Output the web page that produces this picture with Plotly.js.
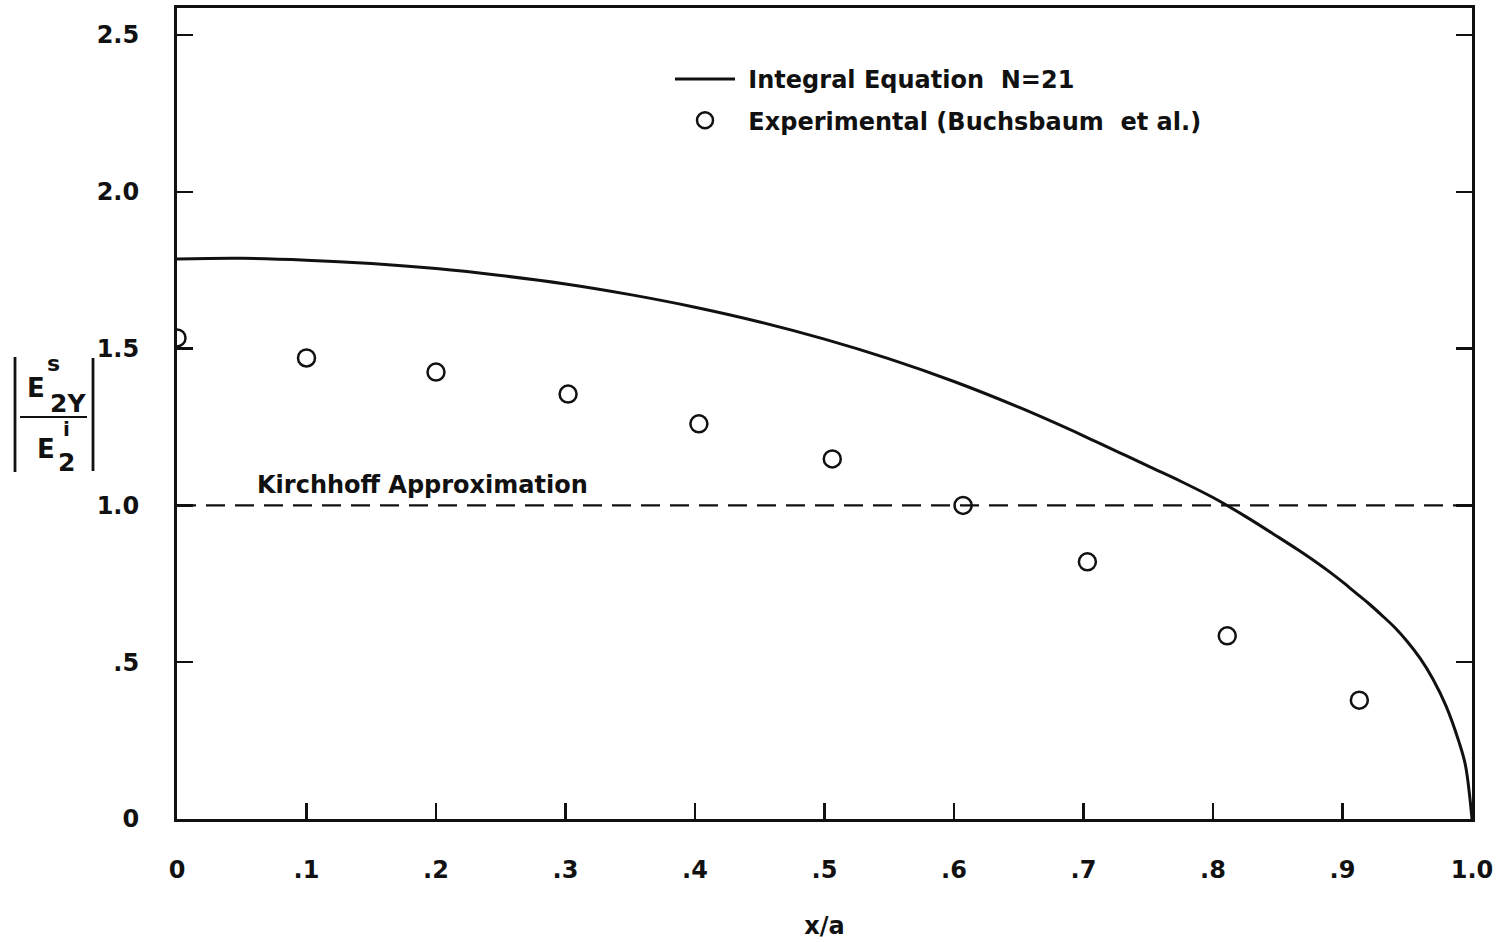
<!DOCTYPE html>
<html>
<head>
<meta charset="utf-8">
<script src="https://cdn.plot.ly/plotly-3.0.1.min.js"></script>
<style>
  html, body { margin: 0; padding: 0; background: #ffffff; }
  #chart { width: 1501px; height: 942px; }
</style>
</head>
<body>
<div id="chart"></div>
<script>
// Integral-equation solution (N = 21): normalized surface field vs. position
const curveX = [0, 0.05, 0.10, 0.15, 0.20, 0.25, 0.30, 0.35, 0.40, 0.45, 0.50,
                0.55, 0.60, 0.65, 0.70, 0.75, 0.775, 0.80, 0.825, 0.85, 0.865, 0.88,
                0.89, 0.90, 0.91, 0.92, 0.93, 0.94, 0.95, 0.96, 0.97, 0.98, 0.99, 0.995, 1.0];
const curveY = [1.786, 1.788, 1.782, 1.771, 1.755, 1.733, 1.706, 1.672, 1.632, 1.585, 1.530,
                1.467, 1.395, 1.313, 1.222, 1.125, 1.077, 1.025, 0.965, 0.900, 0.860, 0.818,
                0.788, 0.756, 0.722, 0.688, 0.651, 0.612, 0.566, 0.512, 0.445, 0.360, 0.245, 0.170, 0];

// Measured values (Buchsbaum et al.)
const expX = [0, 0.10, 0.20, 0.302, 0.403, 0.506, 0.607, 0.703, 0.811, 0.913];
const expY = [1.534, 1.47, 1.425, 1.355, 1.26, 1.148, 1.0, 0.82, 0.584, 0.379];

// Kirchhoff (physical optics) level
const kirchX = [0, 1];
const kirchY = [1, 1];

// Axis ticks
const xTickVals = [0, 0.1, 0.2, 0.3, 0.4, 0.5, 0.6, 0.7, 0.8, 0.9, 1.0];
const xTickText = ['0', '.1', '.2', '.3', '.4', '.5', '.6', '.7', '.8', '.9', '1.0'];
const yTickVals = [0, 0.5, 1.0, 1.5, 2.0, 2.5];
const yTickText = ['0', '.5', '1.0', '1.5', '2.0', '2.5'];

const FONT = 'DejaVu Sans, Lato, sans-serif';
const INK = '#111111';
const TXT = { family: FONT, size: 24, color: INK, weight: 'bold' };

// Plot-area geometry in pixels, used to place the y-axis fraction label
const M = { l: 177, r: 29, t: 8, b: 123 };
const W = 1501 - M.l - M.r;
const H = 942 - M.t - M.b;
const px = x => (x - M.l) / W;
const py = y => (942 - M.b - y) / H;

const yRange = [0, 2.586];

const traces = [
  {
    x: curveX, y: curveY, type: 'scatter', mode: 'lines',
    line: { color: INK, width: 3, shape: 'spline', smoothing: 1, simplify: false },
    name: '\u00a0Integral Equation\u00a0\u00a0N=21',
    legendgroup: 'a'
  },
  {
    x: expX, y: expY, type: 'scatter', mode: 'markers',
    marker: { symbol: 'circle-open', size: 17, color: INK, line: { width: 2.5, color: INK } },
    name: '\u00a0Experimental (Buchsbaum\u00a0\u00a0et al.)',
    legendgroup: 'b'
  },
  {
    x: kirchX, y: kirchY, type: 'scatter', mode: 'lines', yaxis: 'y2',
    line: { color: INK, width: 2.2, dash: '19px,10px' },
    showlegend: false, hoverinfo: 'skip'
  }
];

const axisCommon = {
  showgrid: false, zeroline: false,
  showline: true, linecolor: INK, linewidth: 3,
  ticks: 'inside', ticklen: 16, tickwidth: 2.5, tickcolor: INK,
  tickfont: TXT,
  tickmode: 'array', fixedrange: true
};

const fracLabel = [
  { text: 'E', x: px(36), y: py(388), size: 26 },
  { text: 's', x: px(53), y: py(363), size: 22 },
  { text: '2Y', x: px(68), y: py(403), size: 25 },
  { text: 'E', x: px(46), y: py(449), size: 26 },
  { text: 'i', x: px(66), y: py(429), size: 20 },
  { text: '2', x: px(66), y: py(462), size: 25 }
].map(a => ({
  text: a.text, x: a.x, y: a.y, xref: 'paper', yref: 'paper',
  xanchor: 'center', yanchor: 'middle', showarrow: false,
  font: { family: FONT, size: a.size, color: INK, weight: 'bold' }
}));

const layout = {
  width: 1501, height: 942,
  margin: M,
  paper_bgcolor: '#ffffff', plot_bgcolor: '#ffffff',
  font: { family: FONT, color: INK },
  showlegend: true,
  legend: {
    x: px(670), y: py(57), xanchor: 'left', yanchor: 'top',
    bgcolor: 'rgba(0,0,0,0)', borderwidth: 0,
    font: TXT,
    itemwidth: 60, tracegroupgap: 7
  },
  xaxis: Object.assign({}, axisCommon, {
    range: [0, 1], mirror: true,
    tickvals: xTickVals, ticktext: xTickText,
    ticklabelstandoff: 27,
    title: { text: 'x/a', font: TXT, standoff: 35 }
  }),
  yaxis: Object.assign({}, axisCommon, {
    range: yRange, mirror: true,
    tickvals: yTickVals, ticktext: yTickText,
    ticklabelstandoff: 30
  }),
  yaxis2: Object.assign({}, axisCommon, {
    range: yRange, overlaying: 'y', side: 'right', showline: false,
    tickvals: yTickVals, showticklabels: false
  }),
  annotations: fracLabel.concat([
    {
      text: 'Kirchhoff Approximation', x: 0.06, y: 1.0, xref: 'x', yref: 'y',
      xanchor: 'left', yanchor: 'bottom', yshift: 4, showarrow: false,
      font: TXT
    }
  ]),
  shapes: [
    // absolute-value bars and fraction rule of the y-axis label
    { type: 'line', xref: 'paper', yref: 'paper', x0: px(15), x1: px(15), y0: py(357), y1: py(472), line: { color: INK, width: 2.8 } },
    { type: 'line', xref: 'paper', yref: 'paper', x0: px(93), x1: px(93), y0: py(358), y1: py(471), line: { color: INK, width: 2.8 } },
    { type: 'line', xref: 'paper', yref: 'paper', x0: px(20), x1: px(87), y0: py(417), y1: py(417), line: { color: INK, width: 2.2 } }
  ]
};

Plotly.newPlot('chart', traces, layout, { displayModeBar: false, staticPlot: true });
</script>
</body>
</html>
